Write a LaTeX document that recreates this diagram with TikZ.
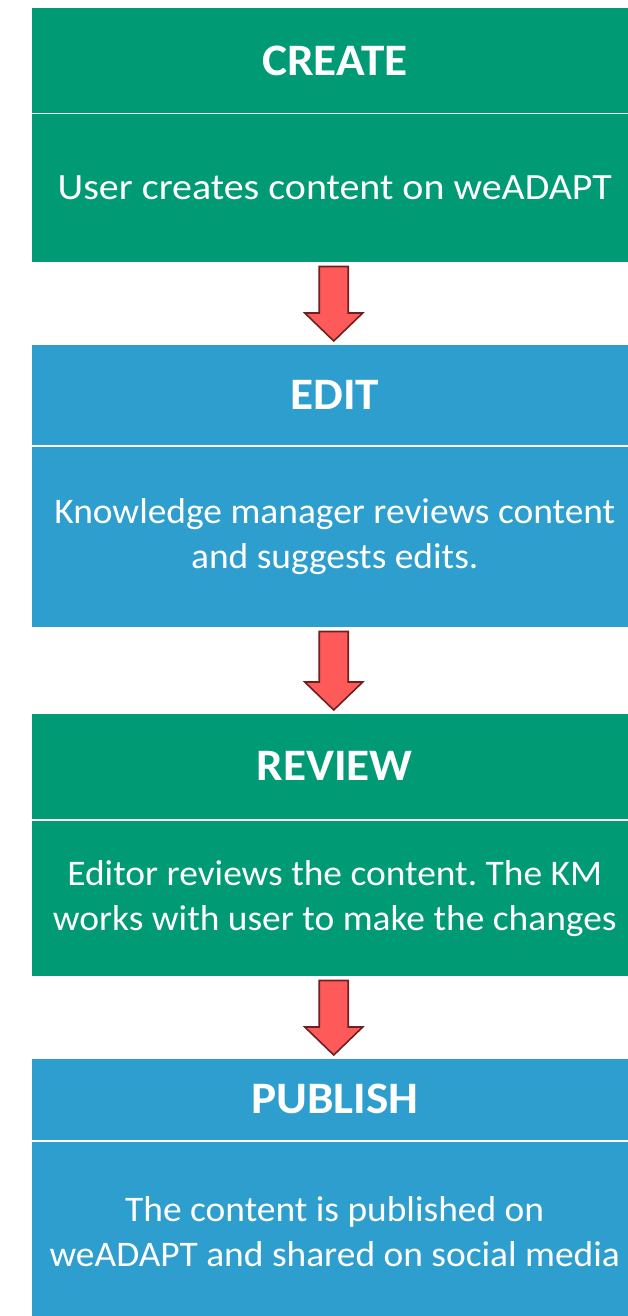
\documentclass[tikz,border=0pt]{standalone}
\usepackage{fontspec}
\setmainfont{Carlito}
\newfontfamily\hdrfont{Carlito}[FakeStretch=1.05]
\newfontfamily\bodyfont{Carlito}[FakeStretch=1.04]
\newfontfamily\bodywide{Carlito}[FakeStretch=1.08]
\usetikzlibrary{calc}
\definecolor{grn}{RGB}{0,155,116}
\definecolor{blu}{RGB}{46,158,206}
\definecolor{arrfill}{RGB}{255,90,90}
\definecolor{arrline}{RGB}{110,31,31}
\tikzset{
  box/.style={anchor=north west, minimum width=608pt, inner sep=0pt, draw=white, line width=1.5pt, text=white, align=center},
  hdr/.style={box, font=\hdrfont\fontsize{45}{54}\selectfont\bfseries},
  bodybox/.style={box, font=\bodyfont\fontsize{36}{45}\selectfont\frenchspacing},
  blockarrow/.style={fill=arrfill, draw=arrline, line width=1.6pt, line join=miter}
}
\newcommand{\flowarrow}[2]{%
  \draw[blockarrow] let \p1=(#1.south), \p2=(#2.north) in
    (\x1-15.5pt,\y1-3pt) -- (\x1+13.5pt,\y1-3pt) -- (\x1+13.5pt,\y2+30pt)
    -- (\x1+28pt,\y2+30pt) -- (\x1-1pt,\y2+2pt) -- (\x1-30pt,\y2+30pt)
    -- (\x1-15.5pt,\y2+30pt) -- cycle;}
\begin{document}
\begin{tikzpicture}[x=1pt,y=-1pt]
\useasboundingbox (0,0) rectangle (628,1316);
% CREATE
\node[hdr, fill=grn, minimum height=106pt] (h1) at (30,7) {CREATE};
\node[bodybox, fill=grn, minimum height=149pt, font=\bodywide\fontsize{37}{45}\selectfont] (b1) at (30,113) {User creates content on weADAPT};
% EDIT
\node[hdr, fill=blu, minimum height=102pt] (h2) at (30,343) {EDIT};
\node[bodybox, fill=blu, minimum height=182pt] (b2) at (30,445) {Knowledge manager reviews content\\and suggests edits.};
% REVIEW
\node[hdr, fill=grn, minimum height=107pt] (h3) at (30,712) {REVIEW};
\node[bodybox, fill=grn, minimum height=157pt] (b3) at (30,819) {Editor reviews the content. The KM\\works with user to make the changes};
% PUBLISH
\node[hdr, fill=blu, minimum height=83pt] (h4) at (30,1057) {PUBLISH};
\node[bodybox, fill=blu, minimum height=182pt] (b4) at (30,1140) {The content is published on\\weADAPT and shared on social media};
% arrows
\flowarrow{b1}{h2}
\flowarrow{b2}{h3}
\flowarrow{b3}{h4}
\end{tikzpicture}
\end{document}
